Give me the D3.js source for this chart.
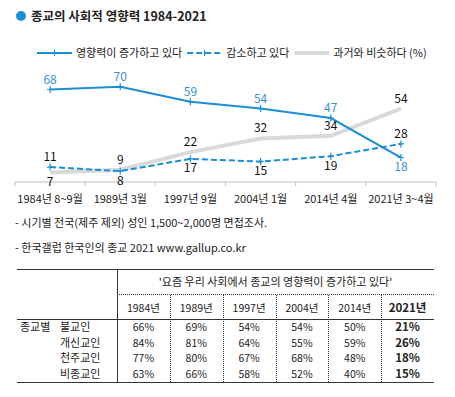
<!DOCTYPE html>
<html>
<head>
<meta charset="utf-8">
<script src="https://cdn.jsdelivr.net/npm/d3@7"></script>
<style>
  body { margin: 0; background: #fff; }
  svg { display: block; font-family: "Noto Sans CJK KR", "Noto Sans", sans-serif; }
</style>
</head>
<body>
<script>
// chart data
const categories = ['1984년 8~9월', '1989년 3월', '1997년 9월', '2004년 1월', '2014년 4월', '2021년 3~4월']
const increasing = [68, 70, 59, 54, 47, 18]
const decreasing = [11, 8, 17, 15, 19, 28]
const similar = [7, 9, 22, 32, 34, 54]
const seriesNames = ['영향력이 증가하고 있다', '감소하고 있다', '과거와 비슷하다 (%)']

// table data
const tableTitle = "'요즘 우리 사회에서 종교의 영향력이 증가하고 있다'"
const tableYears = ['1984년', '1989년', '1997년', '2004년', '2014년', '2021년']
const religions = ['불교인', '개신교인', '천주교인', '비종교인']
const buddhist = [66, 69, 54, 54, 50, 21]
const protestant = [84, 81, 64, 55, 59, 26]
const catholic = [77, 80, 67, 68, 48, 18]
const nonReligious = [63, 66, 58, 52, 40, 15]

const notes = ['- 시기별 전국(제주 제외) 성인 1,500~2,000명 면접조사.', '- 한국갤럽 한국인의 종교 2021 www.gallup.co.kr']

const w = 455
const h = 397
const blue = '#1a8fd8'
const blueText = '#3a8fd2'
const grey = '#d9d9d9'

const svg = d3.select('body').append('svg')
  .attr('width', w)
  .attr('height', h)

// title
svg.append('circle').attr('cx', 21).attr('cy', 16).attr('r', 5).attr('fill', blue)
svg.append('text')
  .attr('x', 31).attr('y', 21)
  .attr('font-size', 12.5).attr('font-weight', 'bold').attr('fill', '#222')
  .text('종교의 사회적 영향력 1984-2021')

// series set up
const series = [
  { name: seriesNames[0], values: increasing, color: blue, width: 2, dash: null, marker: true, labelColor: blueText },
  { name: seriesNames[1], values: decreasing, color: blue, width: 2, dash: '6,3', marker: true, labelColor: '#111' },
  { name: seriesNames[2], values: similar, color: grey, width: 4, dash: null, marker: false, labelColor: '#111' }
]

// legend
let lx = 37
series.forEach(s => {
  const g = svg.append('g')
  g.append('line')
    .attr('x1', lx).attr('x2', lx + 35).attr('y1', 53).attr('y2', 53)
    .attr('stroke', s.color).attr('stroke-width', s.width)
    .attr('stroke-dasharray', s.dash)
  if (s.marker) {
    g.append('path').attr('d', `M${lx + 17.5},50V56`).attr('stroke', s.color).attr('stroke-width', 1.2)
  }
  const t = g.append('text')
    .attr('x', lx + 39).attr('y', 57)
    .attr('font-size', 11).attr('fill', '#222')
    .text(s.name)
  lx = lx + 39 + t.node().getComputedTextLength() + 5
})

// scales
const xScale = d3.scaleBand()
  .domain(categories)
  .range([15, 436])

const yScale = d3.scaleLinear()
  .domain([0, 100])
  .range([182, 46])

const cx = c => xScale(c) + xScale.bandwidth() / 2

// x axis
const axis = svg.append('g').attr('stroke', '#bfbfbf')
axis.append('line').attr('x1', 15).attr('x2', 436).attr('y1', 182).attr('y2', 182)
axis.selectAll('line.tick')
  .data(categories.map(c => xScale(c)).concat([436]))
  .enter().append('line')
  .attr('class', 'tick')
  .attr('x1', d => d).attr('x2', d => d)
  .attr('y1', 182).attr('y2', 186)

svg.selectAll('text.xlab')
  .data(categories)
  .enter().append('text')
  .attr('class', 'xlab')
  .attr('x', d => cx(d)).attr('y', 203)
  .attr('text-anchor', 'middle')
  .attr('font-size', 11).attr('fill', '#222')
  .text(d => d)

// lines, grey first so the blue ones sit on top
const line = d3.line()
  .x((d, i) => cx(categories[i]))
  .y(d => yScale(d))

series.slice().reverse().forEach(s => {
  svg.append('path')
    .datum(s.values)
    .attr('d', line)
    .attr('fill', 'none')
    .attr('stroke', s.color)
    .attr('stroke-width', s.width)
    .attr('stroke-dasharray', s.dash)
  if (s.marker) {
    svg.selectAll(null)
      .data(s.values)
      .enter().append('path')
      .attr('d', (d, i) => `M${cx(categories[i]) - 3},${yScale(d)}H${cx(categories[i]) + 3}M${cx(categories[i])},${yScale(d) - 3.5}V${yScale(d) + 3.5}`)
      .attr('stroke', s.color)
      .attr('stroke-width', 1.2)
  }
})

// value labels: lowest value at a date goes below its point, the others above
series.forEach(s => {
  svg.selectAll(null)
    .data(s.values)
    .enter().append('text')
    .attr('x', (d, i) => cx(categories[i]))
    .attr('y', (d, i) => {
      const lowest = d3.min(series, o => o.values[i])
      return d === lowest ? yScale(d) + 13.5 : yScale(d) - 6
    })
    .attr('text-anchor', 'middle')
    .attr('font-size', 12)
    .attr('fill', s.labelColor)
    .text(d => d)
})

// notes
svg.selectAll('text.note')
  .data(notes)
  .enter().append('text')
  .attr('class', 'note')
  .attr('x', 15).attr('y', (d, i) => 227 + i * 25)
  .attr('font-size', 11).attr('fill', '#222')
  .text(d => d)

// table
const tableRows = [buddhist, protestant, catholic, nonReligious]
const tLeft = 17, tRight = 434, tSplit = 117
const colScale = d3.scaleBand().domain(tableYears).range([tSplit, tRight])
const rowScale = d3.scaleBand().domain(religions).range([319, 382])
const colMid = y => colScale(y) + colScale.bandwidth() / 2
const rowMid = r => rowScale(r) + rowScale.bandwidth() / 2
const lastYear = tableYears[tableYears.length - 1]

const tg = svg.append('g')
tg.append('line').attr('x1', tLeft).attr('x2', tRight).attr('y1', 269.5).attr('y2', 269.5).attr('stroke', '#333')
tg.append('line').attr('x1', tLeft).attr('x2', tRight).attr('y1', 319.5).attr('y2', 319.5).attr('stroke', '#333')
tg.append('line').attr('x1', tLeft).attr('x2', tRight).attr('y1', 382.5).attr('y2', 382.5).attr('stroke', '#333')
tg.append('line').attr('x1', tSplit + 0.5).attr('x2', tSplit + 0.5).attr('y1', 269).attr('y2', 383).attr('stroke', '#333')
tg.append('line').attr('x1', tSplit).attr('x2', tRight).attr('y1', 294.5).attr('y2', 294.5)
  .attr('stroke', '#333').attr('stroke-dasharray', '1,1')
tg.selectAll('line.coldiv')
  .data(tableYears.slice(1))
  .enter().append('line')
  .attr('class', 'coldiv')
  .attr('x1', d => Math.round(colScale(d)) + 0.5).attr('x2', d => Math.round(colScale(d)) + 0.5)
  .attr('y1', 295).attr('y2', 382)
  .attr('stroke', '#333').attr('stroke-dasharray', '1,1')

tg.append('text')
  .attr('x', (tSplit + tRight) / 2).attr('y', 286)
  .attr('text-anchor', 'middle').attr('font-size', 11).attr('fill', '#222')
  .text(tableTitle)

tg.selectAll('text.year')
  .data(tableYears)
  .enter().append('text')
  .attr('class', 'year')
  .attr('x', d => colMid(d)).attr('y', 311.5)
  .attr('text-anchor', 'middle')
  .attr('font-size', d => d === lastYear ? 11.5 : 10.5)
  .attr('font-weight', d => d === lastYear ? 'bold' : 'normal')
  .attr('fill', '#222')
  .text(d => d)

tg.append('text')
  .attr('x', 20).attr('y', rowMid(religions[0]) + 4)
  .attr('font-size', 11).attr('fill', '#222')
  .text('종교별')

tg.selectAll('text.rel')
  .data(religions)
  .enter().append('text')
  .attr('class', 'rel')
  .attr('x', 60).attr('y', d => rowMid(d) + 4)
  .attr('font-size', 11).attr('fill', '#222')
  .text(d => d)

tableRows.forEach((row, ri) => {
  tg.selectAll(null)
    .data(row)
    .enter().append('text')
    .attr('x', (d, i) => colMid(tableYears[i]))
    .attr('y', rowMid(religions[ri]) + 4)
    .attr('text-anchor', 'middle')
    .attr('font-size', (d, i) => tableYears[i] === lastYear ? 11.5 : 10.5)
    .attr('font-weight', (d, i) => tableYears[i] === lastYear ? 'bold' : 'normal')
    .attr('fill', '#222')
    .text(d => d + '%')
})
</script>
</body>
</html>
